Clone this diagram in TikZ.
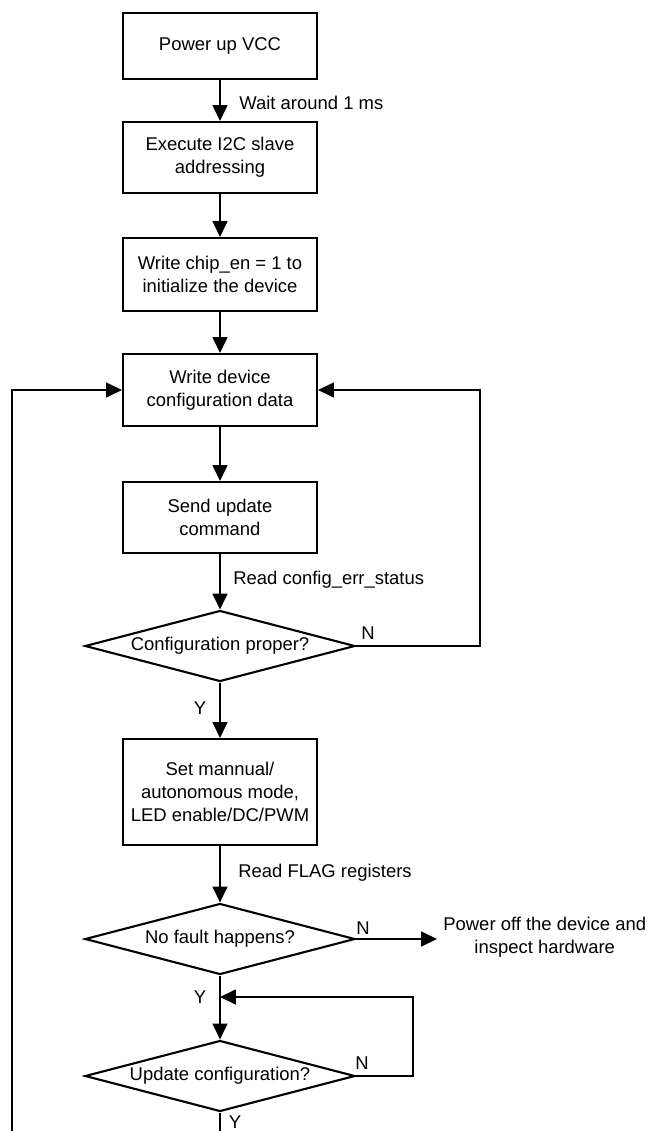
\documentclass[tikz,border=0pt]{standalone}
\usepackage{fontspec}
\setmainfont{Liberation Sans}
\usepackage{tikz}
\usetikzlibrary{shapes.geometric,arrows.meta,positioning}

\begin{document}
\begin{tikzpicture}[
  box/.style={draw,rectangle,line width=1.2pt,align=center,minimum width=3.88cm,minimum height=1.42cm,font=\fontsize{10.5}{13.1}\selectfont},
  dec/.style={draw,diamond,line width=1.2pt,aspect=3.8,inner sep=0pt,minimum width=5.4cm,minimum height=1.42cm,font=\fontsize{10.5}{13.1}\selectfont},
  lbl/.style={font=\fontsize{10.5}{13.1}\selectfont,inner sep=0pt},
  arr/.style={-{Triangle[length=9pt,width=8.5pt]},line width=0.8pt},
  wire/.style={line width=0.8pt}]
  \useasboundingbox (0,0) rectangle (12.98,-22.62);
  % main column
  \node[box,minimum height=1.32cm] (vcc) at (4.4,-0.92) {Power up VCC};
  \node[box] (addr) at (4.4,-3.15) {Execute I2C slave\\addressing};
  \node[box,minimum height=1.46cm] (chipen) at (4.4,-5.49) {Write chip\_en = 1 to\\initialize the device};
  \node[box,minimum height=1.44cm] (cfg) at (4.4,-7.8) {Write device\\configuration data};
  \node[box] (upd) at (4.4,-10.35) {Send update\\command};
  \node[dec] (proper) at (4.4,-12.92) {Configuration proper?};
  \node[box,minimum height=2.12cm] (mode) at (4.4,-15.84) {Set mannual/\\autonomous mode,\\LED enable/DC/PWM};
  \node[dec] (fault) at (4.4,-18.78) {No fault happens?};
  \node[dec] (again) at (4.4,-21.52) {Update configuration?};
  \node[lbl,align=center,anchor=west,inner sep=0.12cm] (off) at (8.74,-18.75) {Power off the device and\\inspect hardware};
  % labels
  \node[lbl,anchor=west] (wait) at (4.78,-2.06) {Wait around 1 ms};
  \node[lbl,anchor=west] (rderr) at (4.66,-11.6) {Read config\_err\_status};
  \node[lbl,anchor=west] (rdflag) at (4.76,-17.46) {Read FLAG registers};
  \node[lbl] (y1) at (4.0,-14.16) {Y};
  \node[lbl] (y2) at (4.0,-19.94) {Y};
  \node[lbl] (y3) at (4.7,-22.44) {Y};
  \node[lbl] (n1) at (7.36,-12.66) {N};
  \node[lbl] (n2) at (7.26,-18.56) {N};
  \node[lbl] (n3) at (7.24,-21.26) {N};
  % loop corners
  \coordinate (rgt) at (9.6,-12.92);
  \coordinate (lbot) at (0.24,-22.62);
  \coordinate (bot) at (4.4,-22.62);
  \coordinate (inr) at (8.26,-21.52);
  \coordinate (join) at (4.4,-19.94);
  % connectors
  \draw[arr] (vcc) -- (addr);
  \draw[arr] (addr) -- (chipen);
  \draw[arr] (chipen) -- (cfg);
  \draw[arr] (cfg) -- (upd);
  \draw[arr] (upd) -- (proper);
  \draw[arr] (proper) -- (mode);
  \draw[arr] (mode) -- (fault);
  \draw[arr] (fault) -- (again);
  \draw[arr] (fault.east) -- (fault.east -| off.west);
  \draw[arr] (proper.east) -- (rgt) |- (cfg.east);
  \draw[arr] (again.east) -- (inr) |- (join);
  \draw[wire] (again.south) -- (bot);
  \draw[arr] (lbot) |- (cfg.west);
\end{tikzpicture}
\end{document}
